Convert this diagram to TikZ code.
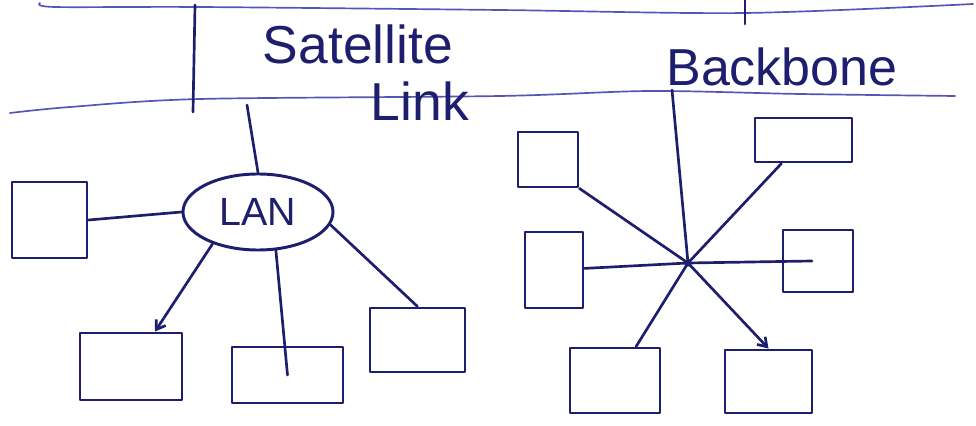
\documentclass[tikz,border=0pt]{standalone}
\usepackage{fontspec}
\setmainfont{Liberation Sans}
\usetikzlibrary{arrows.meta, positioning, shapes.geometric, calc}
\definecolor{ink}{RGB}{30,30,110}
\definecolor{ruleink}{RGB}{85,85,180}

\begin{document}
\begin{tikzpicture}[
    x=0.025cm, y=-0.025cm,
    >=Stealth,
    line join=round, line cap=round,
    every node/.style={text=ink},
    wire/.style={draw=ink, line width=1.9pt},
    arr/.style={-{Straight Barb[length=6pt, width=8pt]}, draw=ink, line width=1.9pt},
    rule/.style={draw=ruleink, line width=1.2pt},
    pc/.style={
      rectangle, draw=ink, line width=2.1pt, inner sep=0pt
    },
    lanring/.style={
      ellipse, draw=ink, line width=2.1pt, inner sep=0pt,
      minimum width=3.75cm, minimum height=1.9cm
    },
    hand/.style={font=\fontsize{38}{42}\selectfont, inner sep=0pt}
  ]

    \useasboundingbox (0,0) rectangle (976,426);

    % Ruled band with the two links
    \draw[rule] plot[smooth] coordinates {(40,3) (55,7) (200,7) (500,10) (745,13) (973,4)};
    \draw[rule] plot[smooth] coordinates {(10,113) (70,107) (200,99) (500,96) (650,91) (800,94) (955,96)};
    \draw[wire] (195,5) -- (193,112);
    \draw[wire] (745,0) -- (745,24);

    \node[hand] (sat)      at (358,44) {Satellite};
    \node[hand] (satlink)  at (420,101) {Link};
    \node[hand, font=\fontsize{37}{40}\selectfont] (backbone) at (782,67) {Backbone};

    % LAN with its hosts
    \node[lanring, font=\fontsize{28}{30}\selectfont] (lan) at (258,212) {LAN};
    \node[pc, minimum width=1.875cm, minimum height=1.9cm]  (host)  at (49.5,220) {};
    \node[pc, minimum width=2.55cm,  minimum height=1.675cm] (lans1) at (131,366.5) {};
    \node[pc, minimum width=2.775cm, minimum height=1.4cm]   (lans2) at (287.5,375) {};
    \node[pc, minimum width=2.375cm, minimum height=1.6cm]   (lans3) at (417.5,340) {};
    \coordinate (satdrop) at (247,105);

    \draw[wire] (lan.north) -- (satdrop);
    \draw[wire] (host.east) -- (lan.west);
    \draw[arr]  (lan.-145) -- ([xshift=0.6cm]lans1.north);
    \draw[wire] (lan.-65) -- (lans2.center);
    \draw[wire] (lan.-10) -- (lans3.north);

    % Star on the backbone
    \coordinate (hub)   at (688,263);
    \coordinate (bbtop) at (672,90);
    \node[pc, minimum width=1.5cm,   minimum height=1.375cm] (stnw) at (548,159.5) {};
    \node[pc, minimum width=2.425cm, minimum height=1.1cm]   (stne) at (803.5,140) {};
    \node[pc, minimum width=1.45cm,  minimum height=1.9cm]   (stw)  at (554,270) {};
    \node[pc, minimum width=1.75cm,  minimum height=1.55cm]  (ste)  at (818,261) {};
    \node[pc, minimum width=2.25cm,  minimum height=1.625cm] (stsw) at (615,380.5) {};
    \node[pc, minimum width=2.175cm, minimum height=1.575cm] (stse) at (768.5,381.5) {};

    \draw[wire] (bbtop) -- (hub);
    \draw[wire] (stnw.south east) -- (hub);
    \draw[wire] (hub) -- (stne);
    \draw[wire] (stw) -- (hub);
    \draw[wire] (hub) -- ([xshift=-0.15cm]ste.center);
    \draw[wire] (hub) -- (stsw);
    \draw[arr]  (hub) -- (stse.north);
    \fill[ink] (hub) circle[radius=2.6pt];

  \end{tikzpicture}
\end{document}
